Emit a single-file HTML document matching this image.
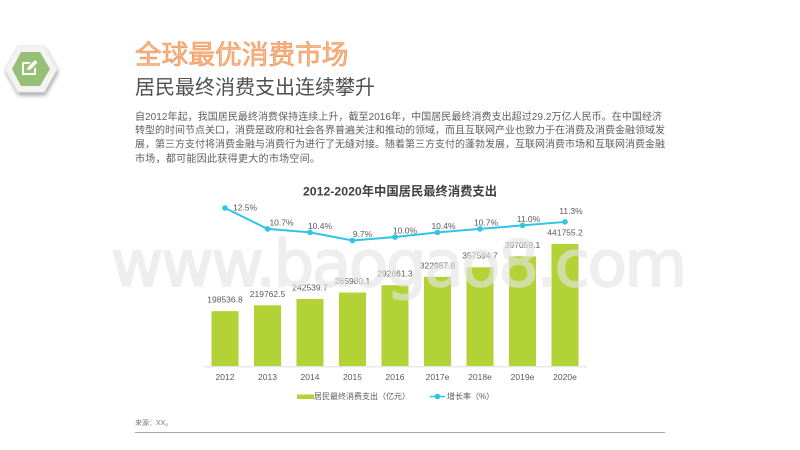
<!DOCTYPE html>
<html lang="zh">
<head>
<meta charset="utf-8">
<title>全球最优消费市场</title>
<style>
html,body{margin:0;padding:0;background:#fff;width:800px;height:450px;overflow:hidden}
svg{display:block;filter:blur(0.3px)}
text{font-family:"Liberation Sans","Noto Sans CJK SC",sans-serif}
</style>
</head>
<body>
<svg id="slide" xmlns="http://www.w3.org/2000/svg" width="800" height="450" viewBox="0 0 800 450">
  <defs>
    <filter id="iconShadow" x="-30%" y="-30%" width="160%" height="170%">
      <feGaussianBlur in="SourceAlpha" stdDeviation="2"/>
      <feOffset dx="1" dy="3"/>
      <feComponentTransfer><feFuncA type="linear" slope="0.35"/></feComponentTransfer>
      <feMerge><feMergeNode/><feMergeNode in="SourceGraphic"/></feMerge>
    </filter>
  </defs>
  <g>
    <polygon points="5,69 18,46 44,46 57,69 44,92 18,92" fill="#f3f3f3" stroke="#e8e8e8" stroke-width="1" filter="url(#iconShadow)"/>
    <polygon points="12,69 21,52 40,52 50,69 40,86 21,86" fill="#97bf78"/>
    <path d="M22 62h9l-2 2h-5v9h10v-4l2-2v8H22z" fill="#fff"/>
    <path d="M27 70l1-3 7-7 2.500 2.500-7 7z" fill="#fff"/>
  </g>
  <text x="135" y="64" font-size="26.7" fill="#f7b88c" stroke="#ee9050" stroke-width="0.6">全球最优消费市场</text>
  <text x="135" y="94" font-size="20" fill="#505050">居民最终消费支出连续攀升</text>
  <g font-size="10" fill="#606060">
    <text x="135" y="120" textLength="527" lengthAdjust="spacing">自2012年起，我国居民最终消费保持连续上升，截至2016年，中国居民最终消费支出超过29.2万亿人民币。在中国经济</text>
    <text x="135" y="133.500" textLength="530" lengthAdjust="spacing">转型的时间节点关口，消费是政府和社会各界普遍关注和推动的领域，而且互联网产业也致力于在消费及消费金融领域发</text>
    <text x="135" y="147.500" textLength="530" lengthAdjust="spacing">展，第三方支付将消费金融与消费行为进行了无缝对接。随着第三方支付的蓬勃发展，互联网消费市场和互联网消费金融</text>
    <text x="135" y="162" textLength="185" lengthAdjust="spacing">市场，都可能因此获得更大的市场空间。</text>
  </g>
  <text x="400" y="195.500" font-size="12.300" font-weight="bold" fill="#404040" text-anchor="middle">2012-2020年中国居民最终消费支出</text>
  <g id="chart"></g>
  <g>
    <rect x="297" y="394.500" width="17" height="4.500" fill="#b2d235"/>
    <text x="314" y="399" font-size="8" fill="#595959">居民最终消费支出（亿元）</text>
    <line x1="430" y1="396.500" x2="445" y2="396.500" stroke="#2ec5e6" stroke-width="1.500"/>
    <circle cx="437.500" cy="396.500" r="2.800" fill="#2ec5e6"/>
    <text x="447" y="399" font-size="8" fill="#595959">增长率（%）</text>
  </g>
  <text x="135" y="425" font-size="7" fill="#777777">来源：XX。</text>
  <line x1="135" y1="432.500" x2="665" y2="432.500" stroke="#aaaaaa" stroke-width="1"/>
  <g opacity="0.62">
    <text x="399" y="286" font-size="64" text-anchor="middle" fill="#e4e4e4" stroke="#e4e4e4" stroke-width="1.800" textLength="576" lengthAdjust="spacing" style='font-family:"DejaVu Sans",sans-serif'>www.baogao8.com</text>
  </g>
</svg>
<script>
var categories = ['2012','2013','2014','2015','2016','2017e','2018e','2019e','2020e'];
var spendingValues = [198536.8,219762.5,242539.7,265980.1,292661.3,322987.8,357594.7,397059.1,441755.2];
var growthValues = [12.5,10.7,10.4,9.7,10.0,10.4,10.7,11.0,11.3];

var svgNS = 'http://www.w3.org/2000/svg';
var chart = document.getElementById('chart');
function make(tag, attrs, parent){
  var el = document.createElementNS(svgNS, tag);
  for (var k in attrs) el.setAttribute(k, attrs[k]);
  (parent || chart).appendChild(el);
  return el;
}
function xPos(i){ return 225 + i * 42.5; }
function yBar(v){ return 366 - v * 122 / 441755.2; }
function yLine(v){ return 240.5 - (v - 9.7) * 11.6; }
function labelDx(i){ return i === 0 ? 20 : i === 1 ? 14 : i < 5 ? 10 : 6; }
function labelDy(i){ return i === 0 ? 2.5 : i === 8 ? -8 : -3.5; }

var baseline = make('line', {x1:203, y1:366.7, x2:587, y2:366.7, stroke:'#e8e8e8', 'stroke-width':1.5});



categories.forEach(function(cat, i){
  var top = yBar(spendingValues[i]);
  var bar = make('rect', {x:xPos(i)-13.5, y:top, width:27, height:366-top, fill:'#b2d235'});
  
  

  var val = make('text', {x:xPos(i), y:top-8.5, 'font-size':8.5, fill:'#595959', 'text-anchor':'middle'});
  val.textContent = spendingValues[i].toFixed(1);
  
  

  var tick = make('text', {x:xPos(i), y:380, 'font-size':8.5, fill:'#595959', 'text-anchor':'middle'});
  tick.textContent = cat;
  
  
});

var pts = growthValues.map(function(v, i){ return xPos(i) + ',' + yLine(v); }).join(' ');
var line = make('polyline', {points:pts, fill:'none', stroke:'#2ec5e6', 'stroke-width':2});



growthValues.forEach(function(v, i){
  var pt = make('circle', {cx:xPos(i), cy:yLine(v), r:2.800, fill:'#2ec5e6'});
  
  

  var lab = make('text', {x:xPos(i)+labelDx(i), y:yLine(v)+labelDy(i), 'font-size':8.5, fill:'#595959', 'text-anchor':'middle'});
  lab.textContent = v.toFixed(1) + '%';
  
  
});
</script>
</body>
</html>
